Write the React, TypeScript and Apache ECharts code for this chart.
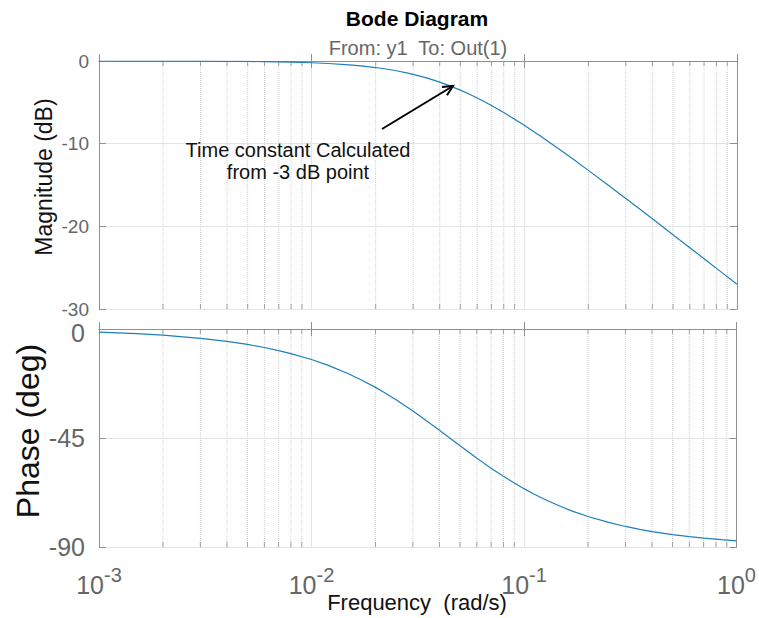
import React, { useEffect, useRef } from "react";
import * as echarts from "echarts";

// Frequency samples (rad/s)
const freq = [0.001, 0.0015, 0.002, 0.003, 0.004, 0.005, 0.006, 0.007, 0.008, 0.01, 0.012, 0.015, 0.017, 0.02, 0.022, 0.025, 0.028, 0.03, 0.035, 0.04, 0.045, 0.05, 0.055, 0.06, 0.065, 0.07, 0.08, 0.09, 0.1, 0.11, 0.12, 0.13, 0.15, 0.17, 0.2, 0.25, 0.3, 0.35, 0.4, 0.5, 0.6, 0.7, 0.85, 1];
// Magnitude (dB)
const magnitude = [0, -0.01, -0.01, -0.02, -0.04, -0.05, -0.08, -0.1, -0.14, -0.21, -0.3, -0.46, -0.59, -0.79, -0.94, -1.18, -1.44, -1.61, -2.08, -2.55, -3.04, -3.52, -4.0, -4.47, -4.93, -5.38, -6.24, -7.04, -7.78, -8.49, -9.14, -9.76, -10.88, -11.89, -13.23, -15.09, -16.63, -17.94, -19.09, -21.01, -22.58, -23.91, -25.6, -27.0];
// Phase (deg)
const phase = [-1.28, -1.92, -2.56, -3.84, -5.11, -6.38, -7.64, -8.9, -10.15, -12.61, -15.03, -18.55, -20.82, -24.1, -26.21, -29.22, -32.06, -33.87, -38.06, -41.83, -45.19, -48.2, -50.9, -53.32, -55.48, -57.44, -60.81, -63.59, -65.91, -67.88, -69.57, -71.03, -73.41, -75.27, -77.4, -79.86, -81.52, -82.72, -83.62, -84.89, -85.74, -86.35, -86.99, -87.44];

// Minor grid positions on the log axis
const minorX = [0.002, 0.003, 0.004, 0.005, 0.006, 0.007, 0.008, 0.009, 0.02, 0.03, 0.04, 0.05, 0.06, 0.07, 0.08, 0.09, 0.2, 0.3, 0.4, 0.5, 0.6, 0.7, 0.8, 0.9];
const magTicks = { min: -30, max: 0, interval: 10 };
const phaseTicks = { min: -90, max: 0, interval: 45 };

const FONT = "Liberation Sans, Arial, Helvetica, sans-serif";
const AXIS = "#8f8f8f";
const LABEL = "#666666";
const GRID = "#e4e4e4";
const MINOR = "#d2d2d2";
const CURVE = "#1f7fb8";

export default function App() {
  const ref = useRef<HTMLDivElement>(null);

  useEffect(() => {
    if (!ref.current) return;
    const chart = echarts.init(ref.current, undefined, { renderer: "svg" });

    const grids = [
      { left: 99, right: 22, top: 61, height: 248 },
      { left: 99, right: 22, top: 329, height: 218 },
    ];

    const xBase = (gridIndex: number, position: "top" | "bottom", showLabel: boolean, split: boolean) => ({
      type: "log",
      logBase: 10,
      min: 0.001,
      max: 1,
      gridIndex,
      position,
      axisLine: { show: true, lineStyle: { color: AXIS, width: 1 } },
      axisTick: { show: true, inside: true, length: 7, lineStyle: { color: AXIS } },
      splitLine: { show: split, lineStyle: { color: GRID, width: 1 } },
      axisLabel: showLabel
        ? {
            show: true,
            margin: 18,
            formatter: (v: number) => `{b|10}{s|${Math.round(Math.log10(v))}}`,
            rich: {
              b: { fontSize: 25, fontFamily: FONT, color: LABEL, lineHeight: 40, verticalAlign: "middle" },
              s: { fontSize: 20, fontFamily: FONT, color: LABEL, lineHeight: 20, verticalAlign: "top" },
            },
          }
        : { show: false },
    });

    const yBase = (
      gridIndex: number,
      position: "left" | "right",
      t: { min: number; max: number; interval: number },
      labelSize: number,
      margin: number,
      showLabel: boolean,
      shiftZero: boolean
    ) => ({
      type: "value",
      gridIndex,
      position,
      min: t.min,
      max: t.max,
      interval: t.interval,
      axisLine: { show: true, lineStyle: { color: AXIS, width: 1 } },
      axisTick: { show: true, inside: true, length: 7, lineStyle: { color: AXIS } },
      splitLine: { show: showLabel, lineStyle: { color: GRID, width: 1 } },
      axisLabel: {
        show: showLabel,
        margin,
        formatter: (v: number) => (shiftZero && v === 0 ? `{z|${v}}` : `{n|${v}}`),
        rich: {
          n: { fontSize: labelSize, lineHeight: labelSize, fontFamily: FONT, color: LABEL },
          z: { fontSize: labelSize, lineHeight: labelSize, fontFamily: FONT, color: LABEL, padding: [7, 0, 0, 0] },
        },
      },
    });

    // Dotted minor grid: vertical segments through the axis range, broken between lines
    const minorGrid = (xi: number, yi: number, t: { min: number; max: number }) => ({
      type: "line",
      xAxisIndex: xi,
      yAxisIndex: yi,
      z: 1,
      silent: true,
      showSymbol: false,
      connectNulls: false,
      lineStyle: { type: "dotted", color: MINOR, width: 1 },
      data: minorX.flatMap((x) => [[x, t.min], [x, t.max], [x, "-"]]),
    });

    const minorTicks = (xi: number, yi: number, yv: number, off: number) => ({
      type: "scatter",
      xAxisIndex: xi,
      yAxisIndex: yi,
      symbol: "rect",
      symbolSize: [1, 5],
      symbolOffset: [0, off],
      itemStyle: { color: AXIS },
      silent: true,
      z: 2,
      data: minorX.map((x) => [x, yv]),
    });

    const headLen = 11;
    const ax1 = 382, ay1 = 129, ax2 = 453, ay2 = 86;
    const ang = Math.atan2(ay2 - ay1, ax2 - ax1);
    const wing = (d: number) => [ax2 - headLen * Math.cos(ang + d), ay2 - headLen * Math.sin(ang + d)];

    chart.setOption({
      animation: false,
      backgroundColor: "#ffffff",
      grid: grids,
      xAxis: [
        xBase(0, "bottom", false, true),
        xBase(0, "top", false, false),
        xBase(1, "bottom", true, true),
        xBase(1, "top", false, false),
      ],
      yAxis: [
        yBase(0, "left", magTicks, 19, 10, true, false),
        yBase(0, "right", magTicks, 19, 10, false, false),
        yBase(1, "left", phaseTicks, 25, 14, true, true),
        yBase(1, "right", phaseTicks, 25, 14, false, false),
      ],
      series: [
        minorGrid(0, 0, magTicks),
        minorGrid(2, 2, phaseTicks),
        minorTicks(0, 0, 0, 2.5),
        minorTicks(0, 0, -30, -2.5),
        minorTicks(2, 2, 0, 2.5),
        minorTicks(2, 2, -90, -2.5),
        {
          type: "line",
          name: "Magnitude",
          xAxisIndex: 0,
          yAxisIndex: 0,
          showSymbol: false,
          smooth: false,
          z: 5,
          lineStyle: { color: CURVE, width: 1.2 },
          data: freq.map((f, i) => [f, magnitude[i]]),
        },
        {
          type: "line",
          name: "Phase",
          xAxisIndex: 2,
          yAxisIndex: 2,
          showSymbol: false,
          smooth: false,
          z: 5,
          lineStyle: { color: CURVE, width: 1.2 },
          data: freq.map((f, i) => [f, phase[i]]),
        },
      ],
      graphic: [
        {
          type: "text",
          x: 417,
          y: 18,
          style: { text: "Bode Diagram", fontSize: 21, fontWeight: "bold", fontFamily: FONT, fill: "#000", align: "center", verticalAlign: "middle" },
        },
        {
          type: "text",
          x: 418,
          y: 48,
          style: { text: "From: y1  To: Out(1)", fontSize: 20, fontFamily: FONT, fill: LABEL, align: "center", verticalAlign: "middle" },
        },
        {
          type: "text",
          x: 44,
          y: 177,
          rotation: Math.PI / 2,
          style: { text: "Magnitude (dB)", fontSize: 23, fontFamily: FONT, fill: "#111", align: "center", verticalAlign: "middle" },
        },
        {
          type: "text",
          x: 28,
          y: 431,
          rotation: Math.PI / 2,
          style: { text: "Phase (deg)", fontSize: 32, fontFamily: FONT, fill: "#111", align: "center", verticalAlign: "middle" },
        },
        {
          type: "text",
          x: 417,
          y: 602,
          style: { text: "Frequency  (rad/s)", fontSize: 22, fontFamily: FONT, fill: "#111", align: "center", verticalAlign: "middle" },
        },
        {
          type: "text",
          x: 298,
          y: 161,
          z: 10,
          style: { text: "Time constant Calculated\nfrom -3 dB point", fontSize: 20, lineHeight: 22, fontFamily: FONT, fill: "#111", align: "center", verticalAlign: "middle" },
        },
        {
          type: "line",
          z: 10,
          shape: { x1: ax1, y1: ay1, x2: ax2, y2: ay2 },
          style: { stroke: "#000", lineWidth: 2 },
        },
        {
          type: "polyline",
          z: 10,
          shape: { points: [wing(0.45), [ax2, ay2], wing(-0.45)] },
          style: { stroke: "#000", lineWidth: 2, fill: "none" },
        },
      ],
    });

    return () => chart.dispose();
  }, []);

  return <div ref={ref} style={{ position: "fixed", left: 0, top: 0, width: 759, height: 618, background: "#fff" }} />;
}
